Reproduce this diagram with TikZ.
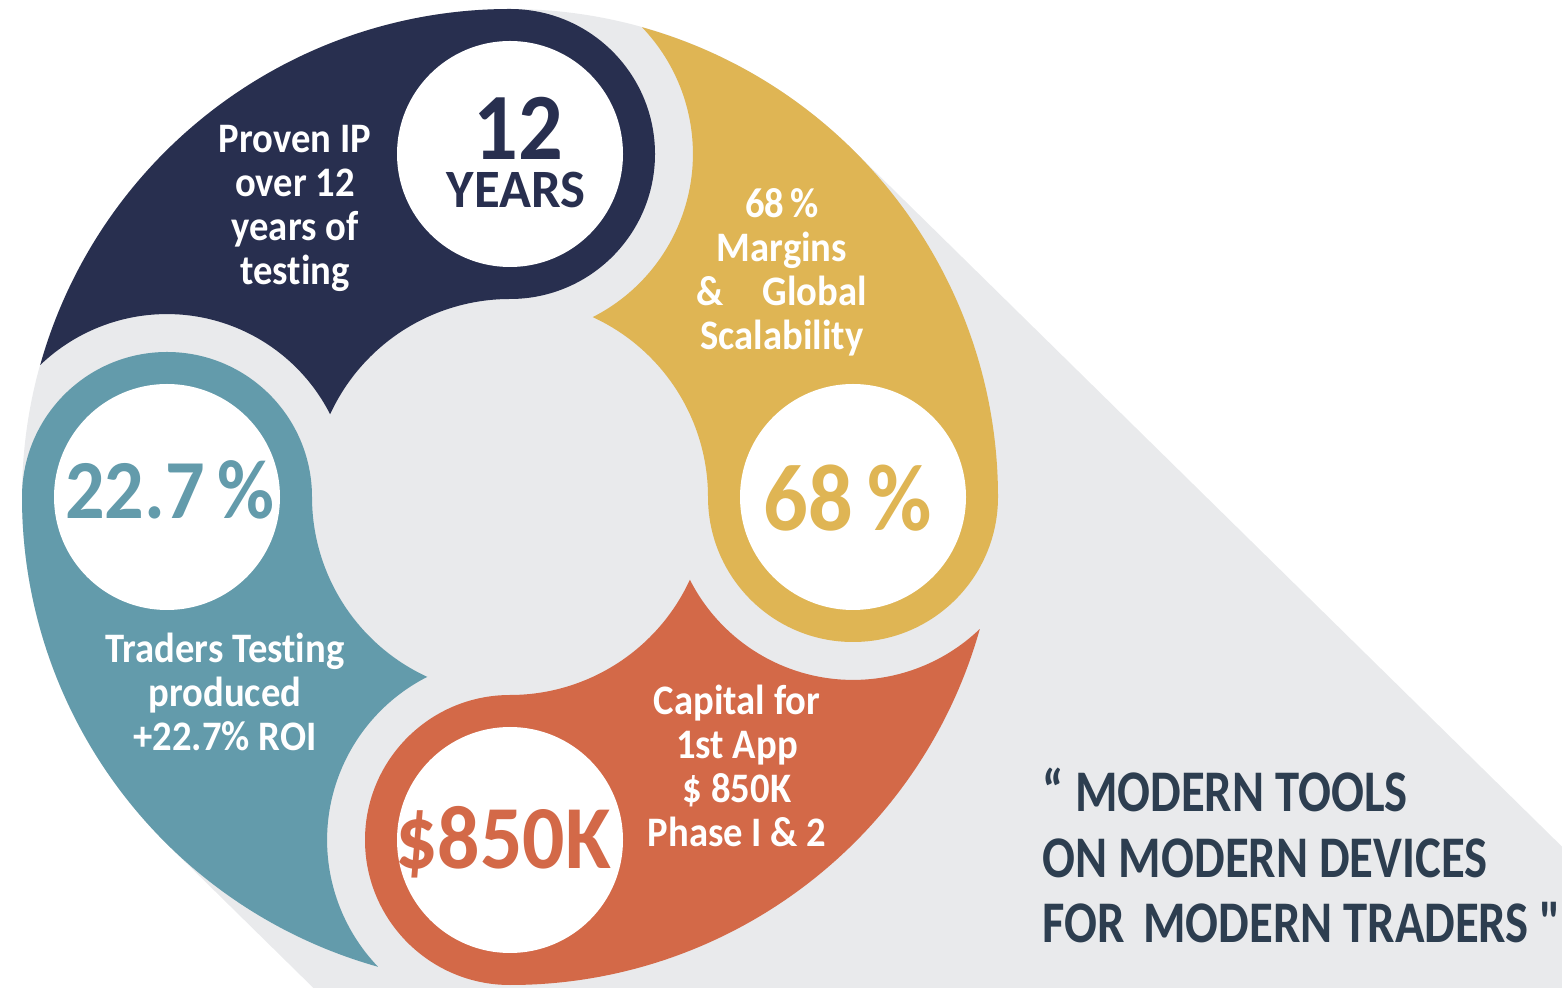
\documentclass[tikz,border=0pt]{standalone}
\usepackage{fontspec}
\setmainfont{Carlito}[Ligatures=CommonOff]
\newfontfamily\quotefont{Carlito}[Ligatures=CommonOff]
\usepackage{xcolor}
\usetikzlibrary{calc, positioning}

\definecolor{darknavy}{HTML}{282F4F}
\definecolor{gold}{HTML}{DFB554}
\definecolor{coral}{HTML}{D36948}
\definecolor{tealblue}{HTML}{639BAB}
\definecolor{shadowgray}{HTML}{E9EAEC}
\definecolor{quoteblue}{HTML}{2D3E50}

\tikzset{
    petaltext/.style={text=white, align=center, xscale=0.92, font=\bfseries\fontsize{42}{44}\selectfont},
    numtext/.style={inner sep=0pt, xscale=0.93, font=\bfseries\fontsize{95}{95}\selectfont},
    quotetext/.style={text=quoteblue, anchor=base west, xscale=0.825, font=\quotefont\bfseries\fontsize{59}{65}\selectfont}
}

\begin{document}
\begin{tikzpicture}[x=1pt, y=1pt]
                    \useasboundingbox (0, 0) rectangle (1562, 987);
                    \clip (0, 0) rectangle (1562, 987);

                    \coordinate (c) at (510, 490);
                    \coordinate (navyc) at (510, 833);
                    \coordinate (goldc) at (853, 490);
                    \coordinate (coralc) at (510, 147);
                    \coordinate (tealc) at (167, 490);

                    % long shadow
                    \fill[shadowgray]
                    ($(c) + (45.5:488)$) -- ++(-44.5:1600) -- ($(c) + (225.5:488) + (-44.5:1600)$) -- ($(c) + (225.5:488)$) -- cycle;
                    \fill[shadowgray] (c) circle[radius=488];

                    % petals
                    \fill[darknavy, shift={(c)}, rotate=0]
                    (164.3:488) arc[start angle=164.3, end angle=90, radius=488]
                    arc[start angle=90, end angle=-90, radius=145]
                    arc[start angle=90, end angle=155.3, radius=198]
                    arc[start angle=26.9, end angle=133.8, radius=183] -- cycle;
                    \fill[gold, shift={(c)}, rotate=-90]
                    (164.3:488) arc[start angle=164.3, end angle=90, radius=488]
                    arc[start angle=90, end angle=-90, radius=145]
                    arc[start angle=90, end angle=155.3, radius=198]
                    arc[start angle=26.9, end angle=133.8, radius=183] -- cycle;
                    \fill[coral, shift={(c)}, rotate=-180]
                    (164.3:488) arc[start angle=164.3, end angle=90, radius=488]
                    arc[start angle=90, end angle=-90, radius=145]
                    arc[start angle=90, end angle=155.3, radius=198]
                    arc[start angle=26.9, end angle=133.8, radius=183] -- cycle;
                    \fill[tealblue, shift={(c)}, rotate=-270]
                    (164.3:488) arc[start angle=164.3, end angle=90, radius=488]
                    arc[start angle=90, end angle=-90, radius=145]
                    arc[start angle=90, end angle=155.3, radius=198]
                    arc[start angle=26.9, end angle=133.8, radius=183] -- cycle;

                    \fill[white]
                    (navyc) circle[radius=113]
                    (goldc) circle[radius=113]
                    (coralc) circle[radius=113]
                    (tealc) circle[radius=113];

                    \node[numtext, text=darknavy] (twelve) at (518, 859) {12};
                    \node[numtext, text=darknavy, xscale=1.05, font=\bfseries\fontsize{54}{54}\selectfont] (years) at (516, 797) {YEARS};
                    \node[numtext, text=gold] (sixtyeight) at (848, 489) {68\,\%};
                    \node[numtext, text=tealblue, font=\bfseries\fontsize{84}{84}\selectfont] (roi) at (170, 497) {22.7\,\%};
                    \node[numtext, text=coral, font=\bfseries\fontsize{90}{90}\selectfont] (capnum) at (503, 145) {\$850K};

                    \node[petaltext] (provenip) at (295, 779) {Proven IP\\over 12\\years of\\testing};
                    \node[petaltext] (margins) at (782, 715) {68\,\%\\Margins\\\&\quad Global\\Scalability};
                    \node[petaltext] (traders) at (225, 295) {Traders Testing\\produced\\+22.7\% ROI};
                    \node[petaltext] (capital) at (737, 221) {Capital for\\1st App\\\$ 850K\\Phase I \& 2};

                    \node[quotetext] (quotea) at (1040, 175) {“ MODERN TOOLS};
                    \node[quotetext] (quoteb) at (1040, 109) {ON MODERN DEVICES};
                    \node[quotetext] (quotec) at (1040, 44) {FOR\hspace{0.37em}MODERN TRADERS "};
                \end{tikzpicture}
\end{document}
